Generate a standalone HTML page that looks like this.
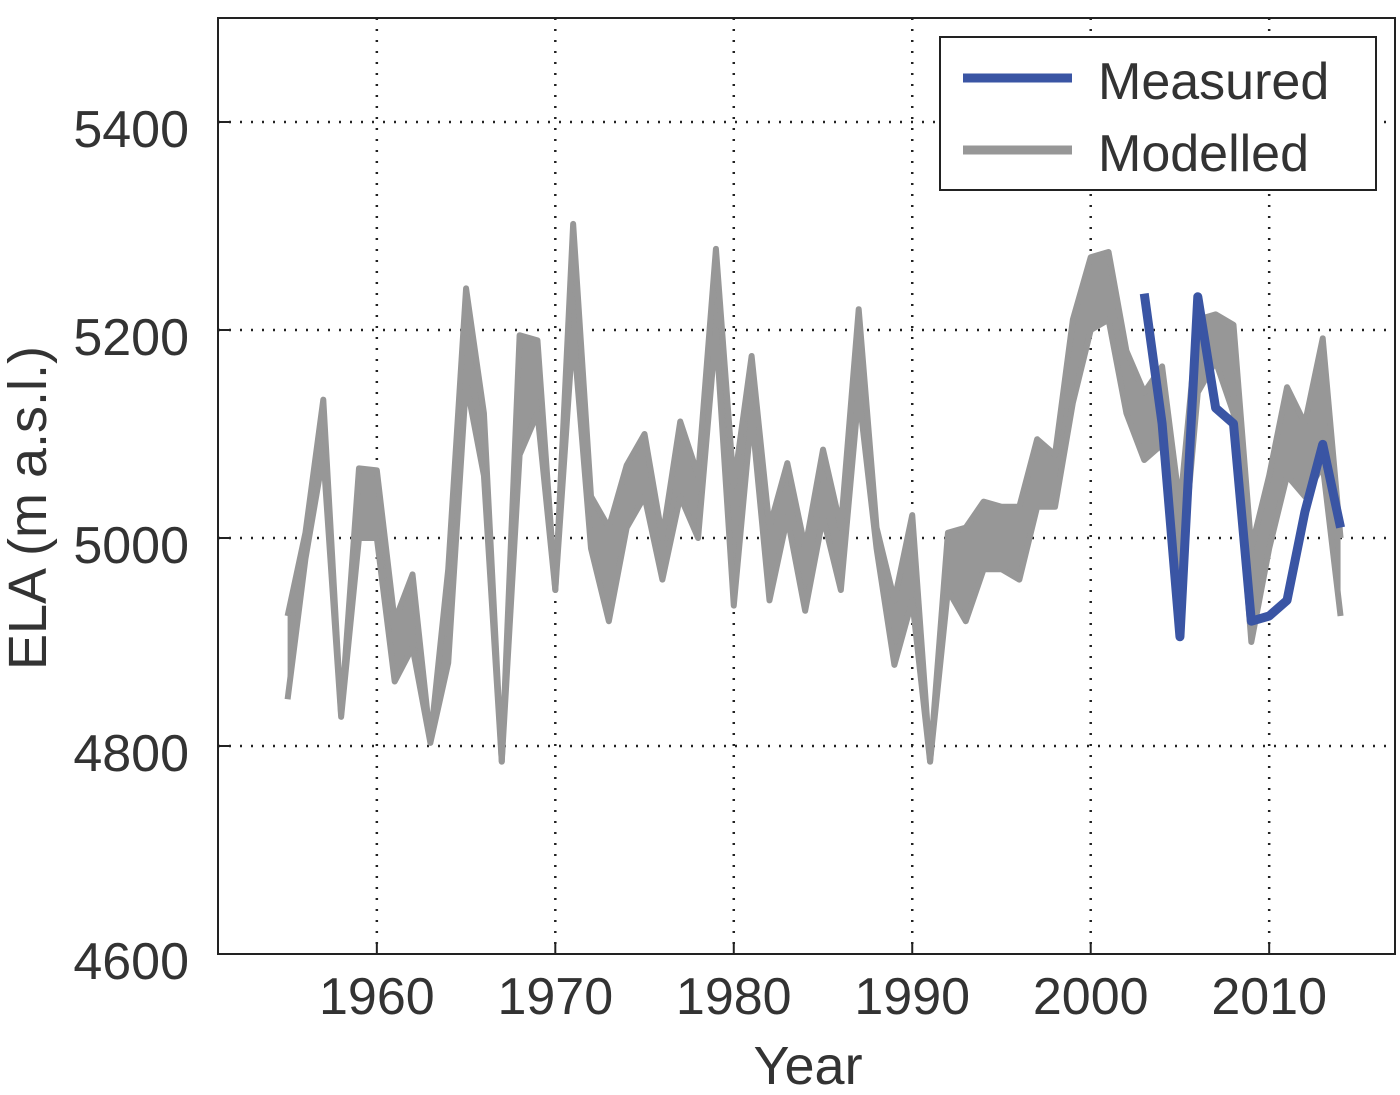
<!DOCTYPE html>
<html><head><meta charset="utf-8"><style>
html,body{margin:0;padding:0;background:#fff;}
svg{display:block;font-family:"Liberation Sans",sans-serif;}
</style></head><body>
<svg id="chart" width="1400" height="1095" viewBox="0 0 1400 1095"></svg>
<script>
const years = [1955,1956,1957,1958,1959,1960,1961,1962,1963,1964,1965,1966,1967,1968,1969,1970,1971,1972,1973,1974,1975,1976,1977,1978,1979,1980,1981,1982,1983,1984,1985,1986,1987,1988,1989,1990,1991,1992,1993,1994,1995,1996,1997,1998,1999,2000,2001,2002,2003,2004,2005,2006,2007,2008,2009,2010,2011,2012,2013,2014];
const modelledHigh = [4925,5005,5133,4830,5067,5065,4920,4965,4805,4970,5240,5120,4785,5195,5190,4950,5302,5040,5010,5070,5100,5000,5112,5060,5278,5050,5175,5010,5072,4990,5085,5010,5220,5010,4940,5022,4785,5005,5010,5035,5030,5030,5095,5080,5210,5270,5275,5180,5140,5165,5030,5210,5215,5205,4990,5060,5145,5110,5192,5000];
const modelledLow = [4845,4980,5080,4828,5000,5000,4862,4895,4803,4880,5150,5060,4785,5080,5120,4950,5200,4990,4920,5010,5040,4960,5040,5000,5200,4935,5120,4940,5020,4930,5020,4950,5140,4990,4878,4940,4785,4950,4920,4970,4970,4960,5030,5030,5130,5200,5210,5120,5075,5090,4950,5140,5170,5120,4900,4990,5060,5040,5070,4925];
const measuredYears = [2003,2004,2005,2006,2007,2008,2009,2010,2011,2012,2013,2014];
const measured = [5235,5110,4905,5232,5125,5110,4920,4925,4940,5025,5090,5010];
const xTicks = [1960,1970,1980,1990,2000,2010];
const yTicks = [4600,4800,5000,5200,5400];

const L=218,R=1395,T=18,B=954;
const x0=1951.1,x1=2017.05,y0=4600,y1=5500;
const sx=v=>L+(v-x0)/(x1-x0)*(R-L);
const sy=v=>B-(v-y0)/(y1-y0)*(B-T);
const svg=document.getElementById('chart');
const NS='http://www.w3.org/2000/svg';
function mk(tag,attrs,parent){const e=document.createElementNS(NS,tag);for(const k in attrs)e.setAttribute(k,attrs[k]);(parent||svg).appendChild(e);return e;}

xTicks.forEach(t=>{
  const g=mk('line',{x1:sx(t),x2:sx(t),y1:T,y2:B,stroke:'#222','stroke-width':2.5,'stroke-dasharray':'2,9'});
  
  
  const tk=mk('line',{x1:sx(t),x2:sx(t),y1:B,y2:B-12,stroke:'#222','stroke-width':2});
  
  
  const tx=mk('text',{x:sx(t),y:1014,'text-anchor':'middle','font-size':52,fill:'#333'});
  tx.textContent=t;
  
  
});
yTicks.forEach(t=>{
  if(t>y0){
    const g=mk('line',{x1:L,x2:R,y1:sy(t),y2:sy(t),stroke:'#222','stroke-width':2.5,'stroke-dasharray':'2,9'});
    
    
  }
  const tk=mk('line',{x1:L,x2:L+12,y1:sy(t),y2:sy(t),stroke:'#222','stroke-width':2});
  
  
  const tx=mk('text',{x:189,y:sy(t)+25,'text-anchor':'end','font-size':52,fill:'#333'});
  tx.textContent=t;
  
  
});

let pts=years.map((y,i)=>sx(y)+','+sy(modelledHigh[i]));
pts=pts.concat(years.map((y,i)=>sx(y)+','+sy(modelledLow[i])).reverse());
const band=mk('polygon',{points:pts.join(' '),fill:'#979797','stroke':'none'});


[modelledHigh,modelledLow].forEach(arr=>{
  const p=mk('polyline',{points:years.map((y,i)=>sx(y)+','+sy(arr[i])).join(' '),fill:'none',stroke:'#979797','stroke-width':6,'stroke-linejoin':'round'});
  
  
});
const mp=mk('polyline',{points:measuredYears.map((y,i)=>sx(y)+','+sy(measured[i])).join(' '),fill:'none',stroke:'#3a55a4','stroke-width':9,'stroke-linejoin':'round'});



const fr=mk('rect',{x:L,y:T,width:R-L,height:B-T,fill:'none',stroke:'#222','stroke-width':2});



const xt=mk('text',{x:808,y:1084,'text-anchor':'middle','font-size':54,fill:'#333'});
xt.textContent='Year';


const yt=mk('text',{x:0,y:0,'text-anchor':'middle','font-size':54,fill:'#333',transform:'translate(46,508) rotate(-90)'});
yt.textContent='ELA (m a.s.l.)';



const lg=mk('g',{});


mk('rect',{x:940,y:37,width:436,height:153,fill:'#fff',stroke:'#222','stroke-width':2},lg);
mk('line',{x1:963,x2:1072,y1:78,y2:78,stroke:'#3a55a4','stroke-width':9},lg);
mk('line',{x1:963,x2:1072,y1:150,y2:150,stroke:'#979797','stroke-width':9},lg);
const t1=mk('text',{x:1098,y:99,'font-size':52,fill:'#333'},lg);t1.textContent='Measured';


const t2=mk('text',{x:1098,y:171,'font-size':52,fill:'#333'},lg);t2.textContent='Modelled';


</script>
</body></html>
